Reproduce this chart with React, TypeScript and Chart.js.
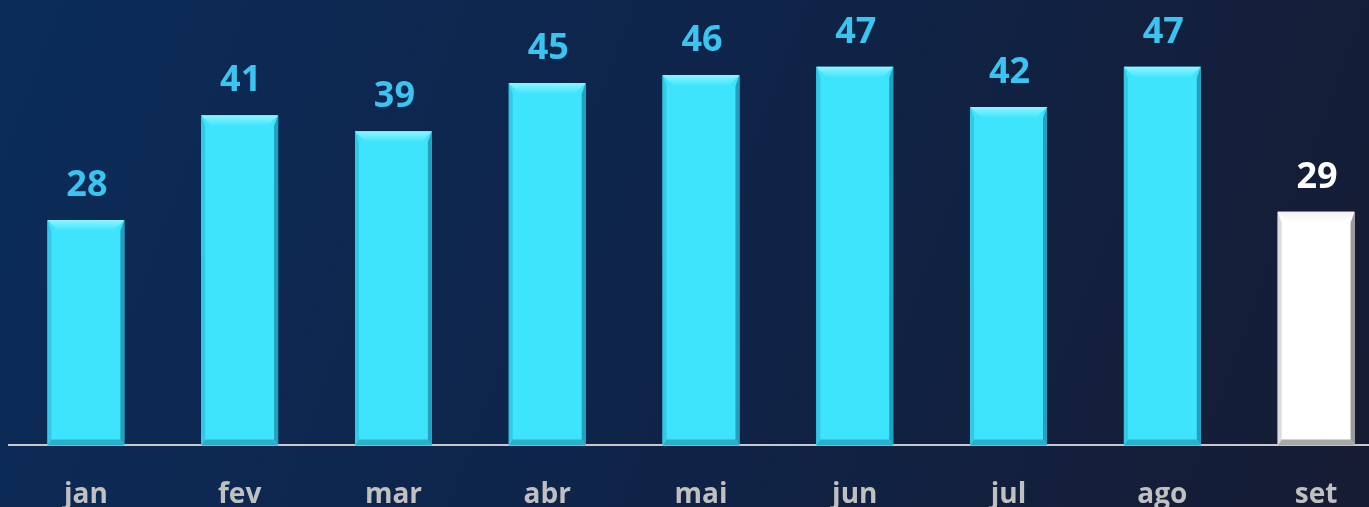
import React, { useEffect, useRef } from 'react';
import { Chart, registerables } from 'chart.js';

Chart.register(...registerables);

const categories = ['jan', 'fev', 'mar', 'abr', 'mai', 'jun', 'jul', 'ago', 'set'];
const values = [28, 41, 39, 45, 46, 47, 42, 47, 29];
const highlighted = [false, false, false, false, false, false, false, false, true];

const yMax = 55.3;

const cyan = { base: '#3de4fc', top: '#8ef5ff', left: '#33c9e6', right: '#239fbf', bottom: '#2bb0cc', label: '#3ac4ef' };
const white = { base: '#ffffff', top: '#f2f2f2', left: '#dcdcdc', right: '#9a9a9a', bottom: '#a8a8a8', label: '#ffffff' };

const bgPlugin = {
  id: 'bg',
  beforeDraw(chart: any) {
    const { ctx, width, height } = chart;
    ctx.save();
    const g = ctx.createLinearGradient(0, 0, 1369, 507);
    g.addColorStop(0, '#0b2c59');
    g.addColorStop(0.5, '#0f2449');
    g.addColorStop(1, '#161c33');
    ctx.fillStyle = g;
    ctx.fillRect(0, 0, width, height);
    ctx.restore();
  },
};

const bevelPlugin = {
  id: 'bevel',
  afterDatasetsDraw(chart: any) {
    const { ctx } = chart;
    const meta = chart.getDatasetMeta(0);
    ctx.save();
    meta.data.forEach((bar: any, i: number) => {
      const p = highlighted[i] ? white : cyan;
      const l = bar.x - bar.width / 2;
      const r = bar.x + bar.width / 2;
      const t = bar.y;
      const b = bar.base;
      const tb = 11;
      const sb = 4;
      const bb = 6;
      ctx.fillStyle = p.left;
      ctx.beginPath();
      ctx.moveTo(l, t); ctx.lineTo(l + sb, t + tb); ctx.lineTo(l + sb, b - bb); ctx.lineTo(l, b); ctx.closePath(); ctx.fill();
      ctx.fillStyle = p.right;
      ctx.beginPath();
      ctx.moveTo(r, t); ctx.lineTo(r - sb, t + tb); ctx.lineTo(r - sb, b - bb); ctx.lineTo(r, b); ctx.closePath(); ctx.fill();
      ctx.fillStyle = p.bottom;
      ctx.beginPath();
      ctx.moveTo(l, b); ctx.lineTo(l + sb, b - bb); ctx.lineTo(r - sb, b - bb); ctx.lineTo(r, b); ctx.closePath(); ctx.fill();
      const g = ctx.createLinearGradient(0, t, 0, t + tb);
      g.addColorStop(0, p.top);
      g.addColorStop(1, p.base);
      ctx.fillStyle = g;
      ctx.beginPath();
      ctx.moveTo(l, t); ctx.lineTo(r, t); ctx.lineTo(r - tb, t + tb); ctx.lineTo(l + tb, t + tb); ctx.closePath(); ctx.fill();
      ctx.fillStyle = p.label;
      ctx.font = 'bold 36px "Open Sans"';
      ctx.textAlign = 'center';
      ctx.textBaseline = 'alphabetic';
      ctx.fillText(String(values[i]), bar.x + 1, t - 24);
    });
    ctx.restore();
  },
};

export default function App() {
  const ref = useRef<HTMLCanvasElement | null>(null);
  useEffect(() => {
    if (!ref.current) return;
    const chart = new Chart(ref.current, {
      type: 'bar',
      data: {
        labels: categories,
        datasets: [
          {
            data: values,
            backgroundColor: highlighted.map((h) => (h ? white.base : cyan.base)),
            borderWidth: 0,
            categoryPercentage: 1,
            barPercentage: 0.5,
          },
        ],
      },
      options: {
        animation: false,
        responsive: true,
        maintainAspectRatio: false,
        layout: { padding: { left: 9, right: 0, top: 0, bottom: 0 } },
        plugins: { legend: { display: false }, tooltip: { enabled: false } },
        scales: {
          x: {
            offset: true,
            grid: { display: false, drawTicks: false },
            border: { display: true, color: '#c9c9c9', width: 2 },
            ticks: {
              color: '#c0c0c0',
              font: { family: 'Open Sans', weight: 'bold', size: 28 },
              padding: 33,
            },
          },
          y: { display: false, min: 0, max: yMax },
        },
      },
      plugins: [bgPlugin, bevelPlugin],
    });
    return () => chart.destroy();
  }, []);
  return (
    <div style={{ position: 'fixed', left: 0, top: 0, width: 1369, height: 507, overflow: 'hidden' }}>
      <div style={{ width: 1393, height: 545 }}>
        <canvas ref={ref} />
      </div>
    </div>
  );
}
